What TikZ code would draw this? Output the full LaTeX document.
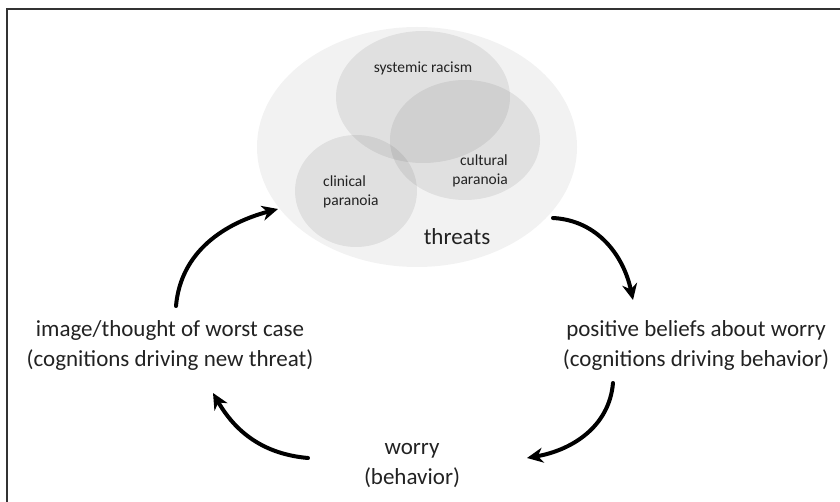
\documentclass[tikz,border=0pt]{standalone}
\usepackage{fontspec}
\setmainfont{Carlito}
\usetikzlibrary{arrows.meta}
\definecolor{threatbg}{HTML}{F2F2F2}
\definecolor{inktext}{HTML}{222222}
\begin{document}
\begin{tikzpicture}[x=1pt,y=1pt,
  blob/.style={fill=black, fill opacity=0.07},
  biglabel/.style={font=\fontsize{23}{30}\selectfont, align=center, text=inktext, inner sep=0pt},
  smalllabel/.style={font=\fontsize{15.5}{19}\selectfont, text=inktext, inner sep=0pt},
  cyclearrow/.style={line width=4pt, line cap=round, -{Stealth[length=16pt,width=15pt,inset=5pt]}}
]
\useasboundingbox (0,0) rectangle (840,-502);
% frame edges
\draw[line width=2pt, draw=black!80] (6.7,-502) -- (6.7,-8.7) -- (840,-8.7);

% threat cluster
\fill[threatbg] (417,-147) ellipse [x radius=160, y radius=120];
\fill[blob] (423,-97) ellipse [x radius=87, y radius=66];
\fill[blob] (465,-140) ellipse [x radius=75, y radius=60];
\fill[blob] (356,-191) ellipse [x radius=61, y radius=56];

\node[smalllabel] (racism) at (423,-68) {systemic racism};
\node[smalllabel, align=right, anchor=east] (cultural) at (508,-171) {cultural\\paranoia};
\node[smalllabel, align=left, anchor=west] (clinical) at (323,-192) {clinical\\paranoia};
\node[biglabel] (threats) at (457,-237) {threats};

% cycle stages
\node[biglabel] (image) at (170,-345) {image/thought of worst case\\(cognitions driving new threat)};
\node[biglabel] (beliefs) at (696,-345) {positive beliefs about worry\\(cognitions driving behavior)};
\node[biglabel] (worry) at (412,-466) {worry\\(behavior)};

% arrow ends
\coordinate (imageout) at (176,-306);
\coordinate (threatsin) at (278,-209);
\coordinate (threatsout) at (553,-218);
\coordinate (beliefsin) at (633,-300);
\coordinate (beliefsout) at (613,-383);
\coordinate (worryin) at (527,-458);
\coordinate (worryout) at (308,-458);
\coordinate (imagein) at (213,-393);

\draw[cyclearrow] (imageout) to[out=85,in=195] (threatsin);
\draw[cyclearrow] (threatsout) to[out=-3,in=102] (beliefsin);
\draw[cyclearrow] (beliefsout) to[out=-95,in=10] (worryin);
\draw[cyclearrow] (worryout) to[out=175,in=-60] (imagein);
\end{tikzpicture}
\end{document}
